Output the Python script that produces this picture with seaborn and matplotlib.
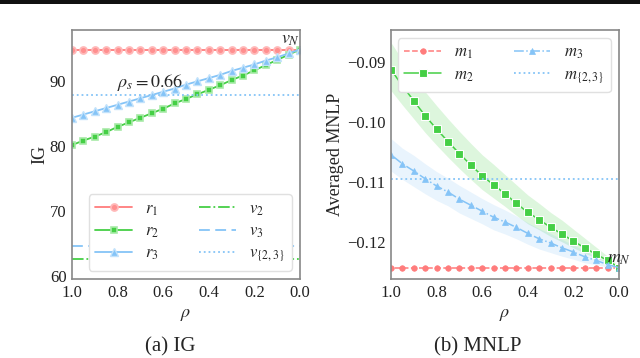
import matplotlib
matplotlib.use("Agg")
import matplotlib.pyplot as plt
from matplotlib.patches import Rectangle
import numpy as np
import pandas as pd
import seaborn as sns

# ── data ────────────────────────────────────────────────────────────────
rho = [1.0, 0.95, 0.9, 0.85, 0.8, 0.75, 0.7, 0.65, 0.6, 0.55, 0.5,
       0.45, 0.4, 0.35, 0.3, 0.25, 0.2, 0.15, 0.1, 0.05, 0.0]

# (a) IG
r1 = [94.8] * 21
r2 = [80.1, 80.8, 81.4, 82.1, 82.9, 83.6, 84.3, 85.0, 85.7, 86.5, 87.2,
      87.9, 88.6, 89.3, 90.1, 90.8, 91.6, 92.4, 93.2, 94.0, 94.8]
r3 = [84.3, 84.8, 85.3, 85.8, 86.3, 86.8, 87.3, 87.8, 88.3, 88.8, 89.4,
      89.9, 90.4, 90.9, 91.5, 92.0, 92.5, 93.1, 93.6, 94.2, 94.8]
v2 = 62.5
v3 = 64.5
v23 = 87.8
rho_s = 0.66

# (b) MNLP
m1 = [-0.1244] * 21
m2 = [-0.0913, -0.0940, -0.0965, -0.0990, -0.1012, -0.1033, -0.1053,
      -0.1072, -0.1090, -0.1105, -0.1120, -0.1136, -0.1151, -0.1163,
      -0.1176, -0.1187, -0.1199, -0.1210, -0.1221, -0.1231, -0.1243]
m2_up = [0.0045, 0.0043, 0.0042, 0.0040, 0.0039, 0.0038, 0.0037, 0.0036,
         0.0035, 0.0034, 0.0032, 0.0031, 0.0029, 0.0027, 0.0025, 0.0023,
         0.0020, 0.0016, 0.0012, 0.0007, 0.0002]
m2_dn = [0.0035, 0.0032, 0.0030, 0.0028, 0.0027, 0.0026, 0.0025, 0.0024,
         0.0023, 0.0022, 0.0021, 0.0020, 0.0019, 0.0017, 0.0015, 0.0013,
         0.0011, 0.0009, 0.0006, 0.0004, 0.0001]
m3 = [-0.1055, -0.1070, -0.1082, -0.1095, -0.1107, -0.1117, -0.1129,
      -0.1139, -0.1149, -0.1159, -0.1167, -0.1176, -0.1186, -0.1195,
      -0.1202, -0.1210, -0.1217, -0.1225, -0.1231, -0.1238, -0.1243]
m3_err = [0.0027, 0.0026, 0.0026, 0.0025, 0.0024, 0.0023, 0.0023, 0.0022,
          0.0021, 0.0021, 0.0020, 0.0019, 0.0018, 0.0017, 0.0016, 0.0014,
          0.0012, 0.0010, 0.0007, 0.0004, 0.0001]
m23 = -0.1095

# ── style ───────────────────────────────────────────────────────────────
sns.set_theme(style="white")
plt.rcParams["font.family"] = ["Liberation Serif", "DejaVu Serif"]
plt.rcParams["mathtext.fontset"] = "stix"
plt.rcParams["axes.unicode_minus"] = True

RED = "#ff7c7c"
GREEN = "#45cf45"
BLUE = "#85c4f7"

fig = plt.figure(figsize=(6.4, 3.58), dpi=100)
axL = fig.add_axes([72 / 640, 79 / 358, 228 / 640, 249 / 358])
axR = fig.add_axes([391 / 640, 79 / 358, 228 / 640, 249 / 358])

# black rule at the very top
fig.add_artist(Rectangle((0, 1 - 4 / 358), 1, 4 / 358,
                         transform=fig.transFigure, color="#111111", lw=0))

dfL = pd.DataFrame({"rho": rho, "r1": r1, "r2": r2, "r3": r3})
dfR = pd.DataFrame({"rho": rho, "m1": m1, "m2": m2, "m3": m3})

# ── (a) IG ──────────────────────────────────────────────────────────────
sns.lineplot(data=dfL, x="rho", y="r1", ax=axL, color=RED, lw=1.3,
             marker="o", ms=5, mfc="#ff8f8f", mec="#ffb8b8", mew=1.3,
             label="$r_1$")
sns.lineplot(data=dfL, x="rho", y="r2", ax=axL, color=GREEN, lw=1.3,
             marker="s", ms=5, mfc=GREEN, mec="#a8eaa8", mew=1.2,
             label="$r_2$")
sns.lineplot(data=dfL, x="rho", y="r3", ax=axL, color=BLUE, lw=1.3,
             marker="^", ms=5.5, mfc=BLUE, mec="#c2e2fb", mew=1.0,
             label="$r_3$")
axL.axhline(v2, color=GREEN, lw=1.3, ls="-.", label="$v_2$")
axL.axhline(v3, color=BLUE, lw=1.3, ls=(0, (6, 3)), label="$v_3$")
axL.axhline(v23, color=BLUE, lw=1.3, ls=":", label="$v_{\\{2,3\\}}$")

axL.text(rho_s, 89.7, "$\\rho_s = 0.66$", ha="center", va="center",
         fontsize=13)
axL.text(0.0, 96.4, "$v_N$", ha="right", va="center", fontsize=13,
         clip_on=False)

axL.set_xlim(1.0, 0.0)
axL.set_ylim(59.5, 97.8)
axL.set_yticks([60, 70, 80, 90])
axL.set_xticks([1.0, 0.8, 0.6, 0.4, 0.2, 0.0])
axL.set_xlabel("$\\rho$", fontsize=13)
axL.set_ylabel("IG", fontsize=13, labelpad=1)
axL.legend(loc="lower right", ncol=2, fontsize=12, handlelength=2.2,
           columnspacing=2.4, labelspacing=0.35, framealpha=1,
           edgecolor="#e0e0e0")

# ── (b) MNLP ────────────────────────────────────────────────────────────
m2_arr, m3_arr = np.array(m2), np.array(m3)
axR.fill_between(rho, m2_arr - np.array(m2_dn), m2_arr + np.array(m2_up),
                 color=GREEN, alpha=0.18, lw=0)
axR.fill_between(rho, m3_arr - np.array(m3_err), m3_arr + np.array(m3_err),
                 color=BLUE, alpha=0.18, lw=0)
sns.lineplot(data=dfR, x="rho", y="m1", ax=axR, color=RED, lw=1.1,
             ls="--", marker="o", ms=4, mfc=RED, mec=RED, mew=0.5,
             label="$m_1$")
sns.lineplot(data=dfR, x="rho", y="m2", ax=axR, color=GREEN, lw=1.1,
             marker="s", ms=6, mfc=GREEN, mec="white", mew=0.8,
             label="$m_2$")
sns.lineplot(data=dfR, x="rho", y="m3", ax=axR, color=BLUE, lw=1.1,
             ls="-.", marker="^", ms=4, mfc=BLUE, mec=BLUE, mew=0.5,
             label="$m_3$")
axR.axhline(m23, color=BLUE, lw=1.3, ls=":", label="$m_{\\{2,3\\}}$")

axR.text(0.0, -0.1228, "$m_N$", ha="center", va="center", fontsize=13,
         clip_on=False)

axR.set_xlim(1.0, 0.0)
axR.set_ylim(-0.1262, -0.0847)
axR.set_yticks([-0.12, -0.11, -0.10, -0.09])
axR.set_xticks([1.0, 0.8, 0.6, 0.4, 0.2, 0.0])
axR.set_xlabel("$\\rho$", fontsize=13)
axR.set_ylabel("Averaged MNLP", fontsize=13, labelpad=2)
axR.legend(loc="upper right", ncol=2, fontsize=12, handlelength=2.2,
           columnspacing=2.4, labelspacing=0.35, framealpha=1,
           edgecolor="#e0e0e0")

for ax in (axL, axR):
    ax.tick_params(labelsize=12, colors="#222222", length=0, pad=4)
    for s in ax.spines.values():
        s.set_color("#888888")
        s.set_linewidth(1.2)

fig.text(170 / 640, 1 - 347 / 358, "(a) IG", ha="center", va="center",
         fontsize=15)
fig.text(478 / 640, 1 - 347 / 358, "(b) MNLP", ha="center", va="center",
         fontsize=15)

fig.savefig("out.png", dpi=100)
